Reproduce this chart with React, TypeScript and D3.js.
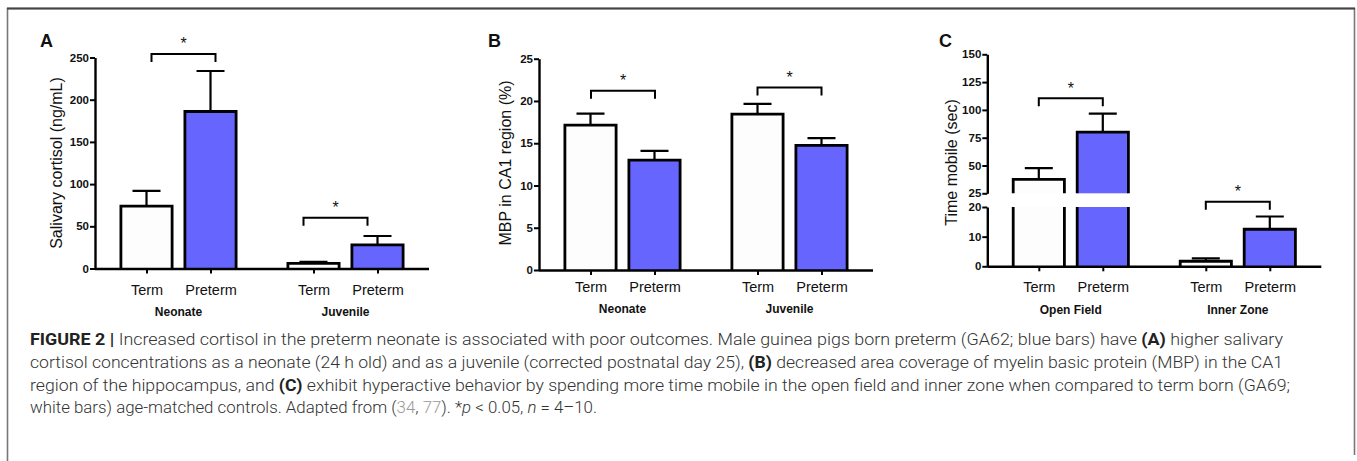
import React, { useEffect, useRef } from "react";
import * as d3 from "d3";

// categories
const conditions = ["Term", "Preterm"];
const ageGroups = ["Neonate", "Juvenile"];
const fieldGroups = ["Open Field", "Inner Zone"];

// A: salivary cortisol (ng/mL); order Neonate Term, Neonate Preterm, Juvenile Term, Juvenile Preterm
const cortisolMean = [74, 186, 6, 28];
const cortisolSem = [18, 48, 2, 10.5];
const cortisolTicks = [0, 50, 100, 150, 200, 250];
const cortisolBrackets = [254, 60];

// B: MBP in CA1 region (%)
const mbpMean = [17.15, 13.0, 18.45, 14.75];
const mbpSem = [1.35, 1.1, 1.2, 0.85];
const mbpTicks = [0, 5, 10, 15, 20, 25];
const mbpBrackets = [21.2, 21.6];

// C: time mobile (sec), broken axis
const mobileMean = [37.6, 80, 1.7, 12.5];
const mobileSem = [10.1, 16.6, 1.0, 4.3];
const mobileTicksLow = [0, 10, 20];
const mobileTicksHigh = [25, 50, 75, 100, 125, 150];
const mobileBrackets = [110.4, 21.8];

const W = 1357;
const H = 461;
const blue = "#6666ff";
const white = "#fdfdfd";
const font = "'Liberation Sans', Arial, Helvetica, sans-serif";

const panels = [
  {
    letter: "A", letterX: 40, axisX: 95, groups: ageGroups,
    mean: cortisolMean, sem: cortisolSem, brackets: cortisolBrackets, bracketShift: [5, -10],
    title: "Salivary cortisol (ng/mL)", titleX: 56, titleY: 163,
    labelY: 290, groupY: 311.7,
    segments: [{ domain: [0, 250], range: [268.5, 57.5], ticks: cortisolTicks }],
  },
  {
    letter: "B", letterX: 488, axisX: 539, groups: ageGroups,
    mean: mbpMean, sem: mbpSem, brackets: mbpBrackets, bracketShift: [0.5, 0],
    title: "MBP in CA1 region (%)", titleX: 505, titleY: 163,
    labelY: 286.5, groupY: 308.5,
    segments: [{ domain: [0, 25], range: [270, 58.7], ticks: mbpTicks }],
  },
  {
    letter: "C", letterX: 939, axisX: 987.3, groups: fieldGroups,
    mean: mobileMean, sem: mobileSem, brackets: mobileBrackets, bracketShift: [0, 0],
    title: "Time mobile (sec)", titleX: 951, titleY: 162.5,
    labelY: 287, groupY: 309.3,
    segments: [
      { domain: [0, 20], range: [266.3, 207], ticks: mobileTicksLow },
      { domain: [25, 150], range: [193.3, 54.3], ticks: mobileTicksHigh },
    ],
  },
];

function drawPanel(root: any, p: any) {
  const g = root.append("g");
  const segs = p.segments.map((s: any) => ({ ...s, scale: d3.scaleLinear().domain(s.domain).range(s.range) }));
  const low = segs[0];
  const high = segs[segs.length - 1];
  const y = (v: number) => (segs.length > 1 && v >= high.domain[0] ? high.scale(v) : low.scale(v));
  const y0 = low.scale(0);
  const xEnd = p.axisX + 334;

  const gx = d3.scalePoint<string>().domain(p.groups).range([p.axisX, xEnd]).padding(0.5);
  const cx = d3.scaleBand<string>().domain(conditions).range([-64, 64]).paddingInner(0.2).paddingOuter(0.1);
  const bw = cx.bandwidth();

  const rows = p.groups.flatMap((grp: string, gi: number) =>
    conditions.map((c, ci) => ({
      grp, c, key: grp + "|" + c,
      mean: p.mean[gi * 2 + ci], sem: p.sem[gi * 2 + ci],
      x: (gx(grp) as number) + (cx(c) as number),
    }))
  );

  rows.forEach((r: any) => {
    const fill = r.c === "Term" ? white : blue;
    const mid = r.x + bw / 2;
    const ye = y(r.mean + r.sem);
    g.append("path")
      .attr("d", `M${mid},${y(r.mean)}V${ye}M${mid - 14},${ye}H${mid + 14}`)
      .attr("fill", "none").attr("stroke", "#000").attr("stroke-width", 2.2);

    const broken = segs.length > 1 && r.mean >= high.domain[0];
    const parts = broken
      ? [[low.range[1], y0, false], [y(r.mean), high.range[0], true]]
      : [[y(r.mean), y0, true]];
    parts.forEach(([top, bot, closed]: any) => {
      g.append("rect").attr("x", r.x).attr("y", top).attr("width", bw).attr("height", bot - top).attr("fill", fill);
      const d = closed
        ? `M${r.x},${bot}V${top}H${r.x + bw}V${bot}`
        : `M${r.x},${top}V${bot}M${r.x + bw},${top}V${bot}`;
      g.append("path").attr("d", d).attr("fill", "none").attr("stroke", "#000").attr("stroke-width", 2.8);
    });
  });

  // y axes
  segs.forEach((s: any) => {
    const ax = g.append("g").attr("transform", `translate(${p.axisX},0)`)
      .call(d3.axisLeft(s.scale).tickValues(s.ticks).tickSize(5).tickSizeOuter(0).tickPadding(1).tickFormat(d3.format("d")));
    ax.select(".domain").attr("stroke-width", 2.4);
    ax.selectAll(".tick line").attr("stroke-width", 2);
    ax.selectAll(".tick text").attr("font-family", font).attr("font-weight", "bold").attr("font-size", 11.5).attr("fill", "#111");
  });

  // x axis
  g.append("line").attr("x1", p.axisX).attr("x2", xEnd).attr("y1", y0 + 0.5).attr("y2", y0 + 0.5)
    .attr("stroke", "#000").attr("stroke-width", 2.6);
  const xo = d3.scaleOrdinal<string, number>().domain(rows.map((r: any) => r.key)).range(rows.map((r: any) => r.x + bw / 2));
  const fs = 14.5;
  const xa = g.append("g").attr("transform", `translate(0,${y0})`)
    .call(d3.axisBottom(xo as any).tickSize(5).tickPadding(p.labelY - y0 - 5 - 0.35 * fs).tickFormat((d: any) => d.split("|")[1]));
  xa.select(".domain").remove();
  xa.selectAll(".tick line").attr("stroke-width", 2);
  xa.selectAll(".tick text").attr("font-family", font).attr("font-size", fs).attr("fill", "#111");

  // group labels
  g.selectAll(".grp").data(p.groups).join("text")
    .attr("x", (d: string) => gx(d) as number).attr("y", p.groupY).attr("dy", "0.36em")
    .attr("text-anchor", "middle").attr("font-family", font).attr("font-weight", "bold")
    .attr("font-size", 12).attr("fill", "#111").text((d: string) => d);

  // significance brackets
  p.groups.forEach((grp: string, gi: number) => {
    const s = p.bracketShift[gi];
    const x1 = (gx(grp) as number) + (cx("Term") as number) + bw / 2 + s;
    const x2 = (gx(grp) as number) + (cx("Preterm") as number) + bw / 2 + s;
    const yb = y(p.brackets[gi]);
    g.append("path").attr("d", `M${x1},${yb + 8}V${yb}H${x2}V${yb + 8}`)
      .attr("fill", "none").attr("stroke", "#000").attr("stroke-width", 2);
    g.append("text").attr("x", (x1 + x2) / 2).attr("y", yb - 4.8).attr("text-anchor", "middle")
      .attr("font-family", font).attr("font-size", 16).attr("fill", "#111").text("*");
  });

  // axis title and panel letter
  g.append("text").attr("transform", `translate(${p.titleX},${p.titleY}) rotate(-90)`)
    .attr("text-anchor", "middle").attr("dy", "0.35em").attr("font-family", font)
    .attr("font-size", 16).attr("fill", "#111").text(p.title);
  g.append("text").attr("x", p.letterX).attr("y", 47.3).attr("font-family", font)
    .attr("font-weight", "bold").attr("font-size", 18).attr("fill", "#111").text(p.letter);
}

const capFont = "Roboto, 'Liberation Sans', Arial, sans-serif";

export default function App() {
  const ref = useRef<SVGGElement>(null);
  useEffect(() => {
    const root = d3.select(ref.current);
    root.selectAll("*").remove();
    panels.forEach((p) => drawPanel(root, p));
  }, []);

  const capStyle = { fontFamily: capFont, fontSize: 16.5, fontWeight: 300, fill: "#333" } as any;
  return (
    <svg width={W} height={H} style={{ position: "absolute", left: 0, top: 0 }}>
      <path d={`M7.5,${H}V8.5H1354.5V455`} fill="none" stroke="#777" strokeWidth={1.6} />
      <line x1={7} x2={1355} y1={8.5} y2={8.5} stroke="#444" strokeWidth={2} />
      <g ref={ref} />
      <g style={capStyle}>
        <text x={30} y={345} textLength={1253} lengthAdjust="spacingAndGlyphs">
          <tspan fontWeight={700} fill="#222">FIGURE 2 |</tspan> Increased cortisol in the preterm neonate is associated with poor outcomes. Male guinea pigs born preterm (GA62; blue bars) have <tspan fontWeight={700} fill="#222">(A)</tspan> higher salivary
        </text>
        <text x={30} y={368} textLength={1253} lengthAdjust="spacingAndGlyphs">
          cortisol concentrations as a neonate (24 h old) and as a juvenile (corrected postnatal day 25), <tspan fontWeight={700} fill="#222">(B)</tspan> decreased area coverage of myelin basic protein (MBP) in the CA1
        </text>
        <text x={30} y={391} textLength={1260} lengthAdjust="spacingAndGlyphs">
          region of the hippocampus, and <tspan fontWeight={700} fill="#222">(C)</tspan> exhibit hyperactive behavior by spending more time mobile in the open field and inner zone when compared to term born (GA69;
        </text>
        <text x={30} y={413} textLength={567} lengthAdjust="spacingAndGlyphs">
          white bars) age-matched controls. Adapted from (<tspan fill="#999">34</tspan>, <tspan fill="#999">77</tspan>). *<tspan fontStyle="italic">p</tspan> &lt; 0.05, <tspan fontStyle="italic">n</tspan> = 4–10.
        </text>
      </g>
    </svg>
  );
}
